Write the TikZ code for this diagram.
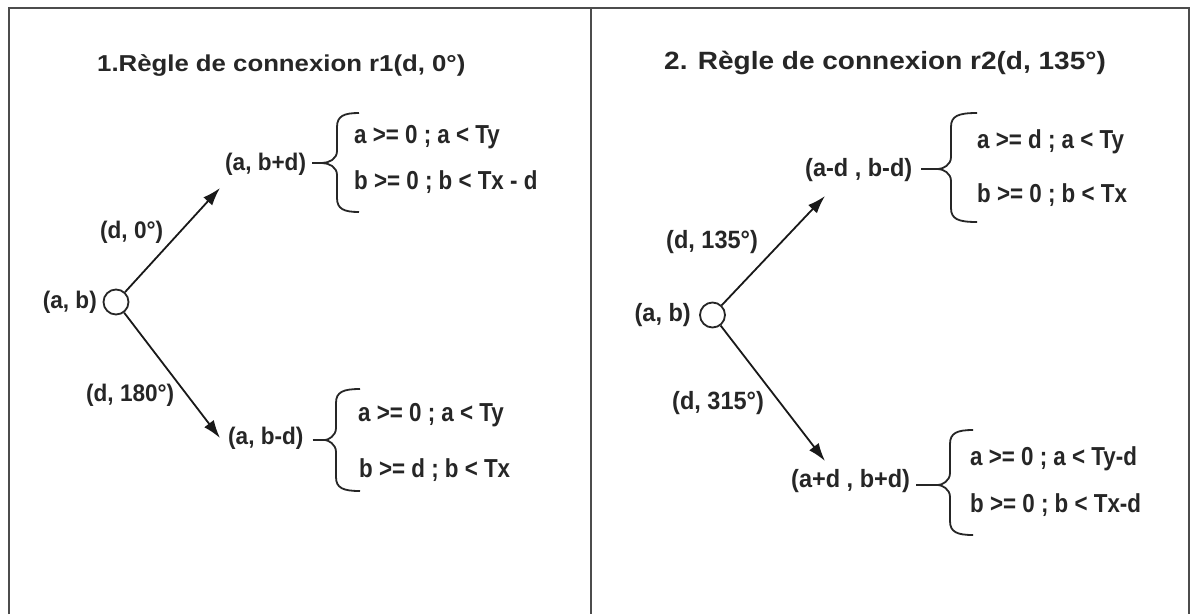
\documentclass[tikz,border=0pt]{standalone}
\usepackage{fontspec}
\setmainfont{Liberation Sans}
\newfontfamily\titlefam[FakeStretch=1.12]{Liberation Sans}
\newfontfamily\condfam[FakeStretch=0.86]{Liberation Sans}
\newfontfamily\labfam[FakeStretch=0.94]{Liberation Sans}
\usetikzlibrary{arrows.meta}
\newcommand{\drawbrace}[6]{%
  \draw[braceline] (#3,#4) .. controls (#2+7,#4) and (#2,#4+3) .. (#2,#4+14)
    -- (#2,#5-12) .. controls (#2,#5-4) and (#2-8,#5) .. (#1,#5)
    .. controls (#2-8,#5) and (#2,#5+4) .. (#2,#5+12)
    -- (#2,#6-14) .. controls (#2,#6-3) and (#2+7,#6) .. (#3,#6);}
\begin{document}
\begin{tikzpicture}[x=1pt,y=-1pt,
  frame/.style={draw=black!70, line width=1.6pt},
  ttl/.style={inner sep=0pt, anchor=base west, text=black!85},
  lab/.style={inner sep=0pt, text=black!85},
  cond/.style={inner sep=0pt, anchor=base west, text=black!85,
    font=\condfam\bfseries\fontsize{26}{29}\selectfont},
  pt/.style={circle, draw=black!85, line width=1.8pt, minimum size=25pt, inner sep=0pt},
  arr/.style={draw=black!90, line width=1.8pt, -{Latex[length=18pt,width=12pt]}},
  braceline/.style={draw=black!85, line width=1.8pt},
  dashl/.style={draw=black!85, line width=1.8pt}]
\useasboundingbox (0,0) rectangle (1194,614);
\fill[white] (0,0) rectangle (1194,614);
% frame
\draw[frame] (9,614) -- (9,8) -- (1189,8) -- (1189,614);
\draw[frame] (591,8) -- (591,614);

% ---------- left panel ----------
\node[ttl, font=\titlefam\bfseries\fontsize{23}{26}\selectfont] (t1) at (97,71) {1.Règle de connexion r1(d, 0°)};
\node[pt] (c1) at (116,302) {};
\node[lab, anchor=east, font=\labfam\bfseries\fontsize{24}{27}\selectfont] (ab1) at (97,302) {(a, b)};
\node[lab, anchor=west, font=\labfam\bfseries\fontsize{24}{27}\selectfont] (d1) at (100,232) {(d, 0°)};
\node[lab, anchor=west, font=\labfam\bfseries\fontsize{24}{27}\selectfont] (n1) at (225,164) {(a, b+d)};
\node[lab, anchor=west, font=\labfam\bfseries\fontsize{24}{27}\selectfont] (d2) at (86,395) {(d, 180°)};
\node[lab, anchor=west, font=\labfam\bfseries\fontsize{24}{27}\selectfont] (n2) at (228,438) {(a, b-d)};
\coordinate (h1) at (220,188);
\coordinate (h2) at (220,438);
\draw[arr] (c1) -- (h1);
\draw[arr] (c1) -- (h2);
\coordinate (bt1) at (322,163);
\coordinate (bt2) at (325,440);
\draw[dashl] ([xshift=6pt]n1.east |- bt1) -- (bt1);
\draw[dashl] ([xshift=9pt]n2.east |- bt2) -- (bt2);
\drawbrace{322}{337}{359}{113}{163}{212}
\drawbrace{325}{336}{360}{389}{440}{491}
\node[cond] (k1) at (354,143) {a >= 0 ; a < Ty};
\node[cond] (k2) at (354,189) {b >= 0 ; b < Tx - d};
\node[cond] (k3) at (358,421) {a >= 0 ; a < Ty};
\node[cond] (k4) at (359,477) {b >= d ; b < Tx};

% ---------- right panel ----------
\node[ttl, font=\titlefam\bfseries\fontsize{25}{28}\selectfont] (t2) at (664,69) {2. Règle de connexion r2(d, 135°)};
\node[pt] (c2) at (712.5,315) {};
\node[lab, anchor=east, font=\labfam\bfseries\fontsize{25}{28}\selectfont] (ab2) at (691,315) {(a, b)};
\node[lab, anchor=west, font=\labfam\bfseries\fontsize{25}{28}\selectfont] (d3) at (666,242) {(d, 135°)};
\node[lab, anchor=west, font=\labfam\bfseries\fontsize{25}{28}\selectfont] (n3) at (805,170) {(a-d , b-d)};
\node[lab, anchor=west, font=\labfam\bfseries\fontsize{25}{28}\selectfont] (d4) at (672,403) {(d, 315°)};
\node[lab, anchor=west, font=\labfam\bfseries\fontsize{25}{28}\selectfont] (n4) at (791,481) {(a+d , b+d)};
\coordinate (h3) at (825,196);
\coordinate (h4) at (825,461);
\draw[arr] (c2) -- (h3);
\draw[arr] (c2) -- (h4);
\coordinate (bt3) at (938,169);
\coordinate (bt4) at (938,485);
\draw[dashl] ([xshift=9pt]n3.east |- bt3) -- (bt3);
\draw[dashl] ([xshift=6pt]n4.east |- bt4) -- (bt4);
\drawbrace{938}{951}{977}{113}{169}{222}
\drawbrace{938}{950}{973}{430}{485}{535}
\node[cond] (k5) at (977,148) {a >= d ; a < Ty};
\node[cond] (k6) at (977,202) {b >= 0 ; b < Tx};
\node[cond] (k7) at (970,465) {a >= 0 ; a < Ty-d};
\node[cond] (k8) at (970,512) {b >= 0 ; b < Tx-d};
\end{tikzpicture}
\end{document}
